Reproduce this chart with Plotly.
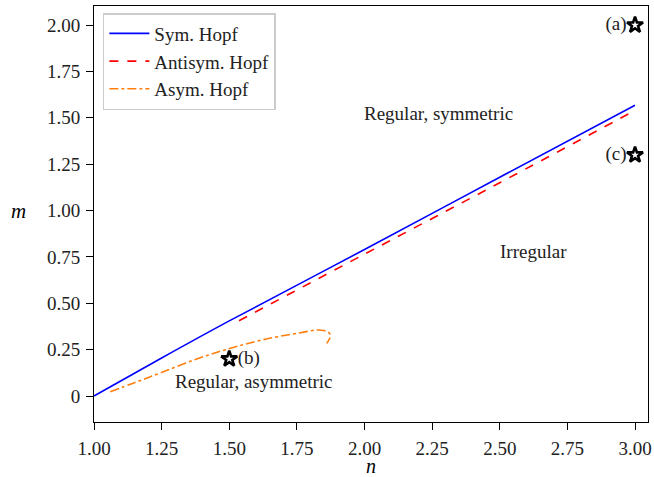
import plotly.graph_objects as go

# Data
sym_n = [1.0, 1.25, 1.5, 2.0, 2.5, 3.0]
sym_m = [0.0, 0.205, 0.405, 0.79, 1.18, 1.568]

anti_n = [1.536, 2.0, 2.5, 3.0]
anti_m = [0.406, 0.765, 1.15, 1.54]

asym_n = [1.06, 1.15, 1.246, 1.39, 1.515, 1.638, 1.762, 1.823, 1.85, 1.868, 1.874, 1.868, 1.86]
asym_m = [0.023, 0.072, 0.125, 0.205, 0.262, 0.308, 0.341, 0.356, 0.353, 0.342, 0.325, 0.302, 0.284]

star_n = [3.0, 1.5, 3.0]
star_m = [2.0, 0.2, 1.3]
star_labels = ["(a)", "(b)", "(c)"]
star_pos = ["middle left", "middle right", "middle left"]

region_labels = ["Regular, symmetric", "Irregular", "Regular, asymmetric"]
region_n = [2.275, 2.623, 1.59]
region_m = [1.524, 0.778, 0.077]

x_ticks = [1.0, 1.25, 1.5, 1.75, 2.0, 2.25, 2.5, 2.75, 3.0]
x_ticktext = ["1.00", "1.25", "1.50", "1.75", "2.00", "2.25", "2.50", "2.75", "3.00"]
y_ticks = [0, 0.25, 0.5, 0.75, 1.0, 1.25, 1.5, 1.75, 2.0]
y_ticktext = ["0", "0.25", "0.50", "0.75", "1.00", "1.25", "1.50", "1.75", "2.00"]

FONT = "Liberation Serif, Times New Roman, serif"
FS = 19

fig = go.Figure()
fig.add_trace(go.Scatter(x=sym_n, y=sym_m, mode="lines", name="Sym. Hopf",
                         line=dict(color="#0000ff", width=1.6, shape="spline")))
fig.add_trace(go.Scatter(x=anti_n, y=anti_m, mode="lines", name="Antisym. Hopf",
                         line=dict(color="#ff0000", width=1.6, dash="dash", shape="spline")))
fig.add_trace(go.Scatter(x=asym_n, y=asym_m, mode="lines", name="Asym. Hopf",
                         line=dict(color="#ff7f0e", width=1.6, dash="dashdot", shape="spline")))
fig.add_trace(go.Scatter(x=star_n, y=star_m, mode="markers+text", showlegend=False,
                         text=star_labels, textposition=star_pos,
                         textfont=dict(family=FONT, size=FS, color="#222"),
                         marker=dict(symbol="star-open", size=12, color="black",
                                     line=dict(width=2.6, color="black"))))

for t, xn, ym in zip(region_labels, region_n, region_m):
    fig.add_annotation(x=xn, y=ym, text=t, showarrow=False,
                       font=dict(family=FONT, size=FS, color="#222"))

# axis labels (upright m as in the reference)
fig.add_annotation(xref="paper", yref="y", x=-0.137, y=1.0, text="<i>m</i>", showarrow=False,
                   xanchor="center", yanchor="middle",
                   font=dict(family=FONT, size=21, color="black"))
fig.add_annotation(xref="paper", yref="paper", x=0.5, y=-0.106, text="<i>n</i>", showarrow=False,
                   xanchor="center", yanchor="middle", height=20, valign="middle",
                   font=dict(family=FONT, size=20, color="black"))

axis_common = dict(showline=True, linecolor="black", linewidth=1, mirror=True,
                   ticks="outside", ticklen=7, tickcolor="black", showgrid=False,
                   zeroline=False, automargin=False, ticklabelstandoff=2,
                   tickfont=dict(family=FONT, size=FS, color="#222"))

fig.update_xaxes(range=[1.0, 3.048], tickvals=x_ticks, ticktext=x_ticktext, **axis_common)
fig.update_yaxes(range=[-0.14, 2.103], tickvals=y_ticks, ticktext=y_ticktext, **axis_common)

fig.update_layout(width=654, height=477, plot_bgcolor="white", paper_bgcolor="white",
                  margin=dict(l=94, r=6, t=6, b=55),
                  font=dict(family=FONT, size=FS, color="black"),
                  legend=dict(x=0.016, y=0.983, xanchor="left", yanchor="top",
                              bordercolor="#cccccc", borderwidth=1.5, bgcolor="white",
                              font=dict(family=FONT, size=FS, color="#222"),
                              tracegroupgap=0, itemwidth=40))

fig.write_html("out.html", config={"displayModeBar": False},
               post_script="document.body.style.margin='0px';")
